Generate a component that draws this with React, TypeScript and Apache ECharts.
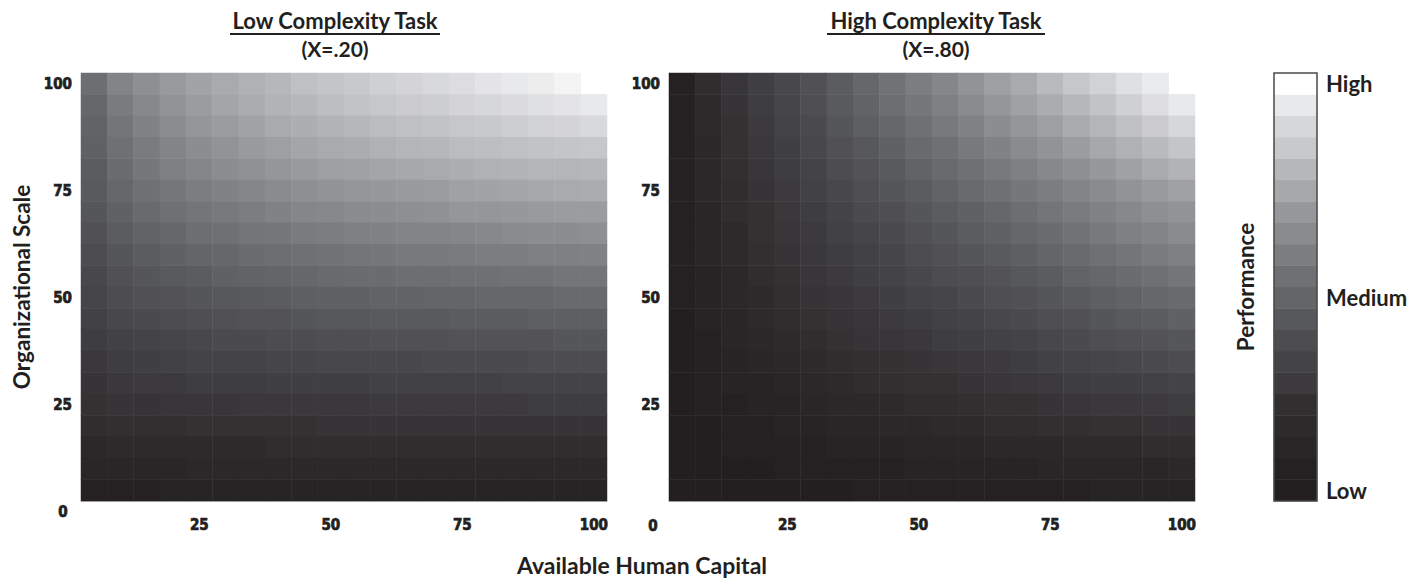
import React, { useEffect, useRef } from 'react';
import * as echarts from 'echarts';

const X_CATS = ['5', '10', '15', '20', '25', '30', '35', '40', '45', '50', '55', '60', '65', '70', '75', '80', '85', '90', '95', '100'];
const Y_CATS = ['5', '10', '15', '20', '25', '30', '35', '40', '45', '50', '55', '60', '65', '70', '75', '80', '85', '90', '95', '100'];
const TICK_LABELS = ['25', '50', '75', '100'];

// Performance (0 = low, 100 = high); rows listed from top (scale 100) to bottom (scale 5)
const LOW_ROWS: (number | null)[][] = [
  [35, 45, 50, 55, 59, 62, 65, 68, 72, 74, 76, 79, 81, 83, 85, 88, 90, 92, 95, null],
  [32, 41, 47, 52, 56, 60, 63, 66, 68, 71, 73, 75, 77, 78, 81, 82, 84, 86, 88, 90],
  [30, 38, 44, 49, 53, 56, 59, 62, 64, 66, 68, 70, 72, 73, 75, 76, 78, 80, 81, 83],
  [29, 36, 41, 45, 49, 52, 55, 57, 60, 62, 63, 65, 67, 68, 70, 71, 72, 73, 74, 75],
  [27, 34, 39, 43, 46, 49, 51, 53, 55, 57, 58, 60, 61, 62, 64, 65, 66, 67, 67, 68],
  [26, 32, 36, 39, 42, 44, 46, 48, 50, 52, 53, 54, 55, 56, 58, 59, 60, 61, 62, 63],
  [24, 29, 33, 36, 38, 40, 42, 44, 46, 47, 48, 49, 50, 51, 53, 53, 54, 55, 56, 56],
  [22, 27, 30, 32, 35, 36, 38, 39, 41, 42, 43, 44, 45, 45, 46, 47, 48, 49, 49, 50],
  [20, 24, 27, 29, 31, 32, 34, 35, 36, 37, 38, 39, 40, 40, 41, 42, 42, 43, 43, 44],
  [18, 22, 24, 26, 27, 29, 30, 31, 32, 33, 34, 34, 35, 35, 36, 36, 37, 37, 38, 38],
  [17, 20, 22, 23, 24, 25, 26, 27, 28, 29, 29, 30, 30, 31, 31, 32, 32, 32, 33, 33],
  [15, 18, 19, 20, 21, 22, 23, 23, 24, 25, 25, 26, 26, 26, 27, 27, 27, 28, 28, 28],
  [13, 15, 16, 17, 18, 19, 19, 20, 20, 21, 21, 22, 22, 22, 23, 23, 23, 23, 24, 24],
  [11, 13, 14, 15, 16, 16, 16, 17, 17, 18, 18, 18, 18, 19, 19, 19, 19, 20, 20, 20],
  [9, 11, 12, 12, 13, 13, 13, 14, 14, 14, 14, 15, 15, 15, 15, 15, 16, 16, 16, 16],
  [8, 9, 9, 10, 10, 10, 11, 11, 11, 11, 11, 12, 12, 12, 12, 12, 12, 13, 13, 13],
  [6, 7, 7, 7, 8, 8, 8, 8, 8, 9, 9, 9, 9, 9, 9, 9, 9, 9, 9, 9],
  [4, 5, 5, 5, 5, 5, 5, 6, 6, 6, 6, 6, 6, 6, 6, 6, 6, 6, 6, 6],
  [3, 3, 3, 3, 4, 4, 4, 4, 4, 4, 4, 4, 4, 4, 4, 4, 4, 4, 4, 4],
  [1, 1, 1, 2, 2, 2, 2, 2, 2, 2, 2, 2, 2, 2, 2, 2, 2, 2, 2, 2],
];

const HIGH_ROWS: (number | null)[][] = [
  [1, 6, 10, 14, 18, 22, 27, 32, 37, 42, 46, 52, 57, 62, 69, 75, 80, 86, 91, null],
  [1, 5, 9, 13, 17, 21, 26, 30, 35, 39, 43, 48, 53, 58, 63, 68, 73, 79, 85, 90],
  [1, 5, 8, 12, 16, 19, 24, 28, 32, 36, 40, 44, 49, 53, 57, 62, 67, 72, 77, 82],
  [1, 4, 8, 11, 14, 18, 22, 25, 29, 33, 36, 40, 44, 48, 52, 56, 61, 65, 69, 74],
  [1, 4, 7, 10, 13, 16, 20, 23, 26, 30, 33, 36, 40, 43, 47, 50, 54, 58, 62, 66],
  [1, 4, 6, 9, 12, 15, 18, 21, 24, 27, 30, 33, 36, 39, 42, 45, 48, 52, 55, 58],
  [1, 3, 6, 8, 11, 13, 16, 19, 21, 24, 27, 29, 32, 35, 38, 41, 44, 47, 50, 52],
  [1, 3, 5, 8, 10, 12, 15, 17, 19, 22, 24, 27, 29, 32, 34, 37, 40, 43, 45, 48],
  [1, 3, 5, 7, 9, 11, 13, 15, 17, 20, 22, 24, 26, 28, 31, 33, 36, 38, 41, 43],
  [1, 2, 4, 6, 8, 10, 12, 14, 16, 18, 20, 21, 23, 25, 27, 30, 32, 34, 36, 38],
  [1, 2, 4, 5, 7, 9, 10, 12, 14, 16, 17, 19, 21, 22, 24, 26, 28, 30, 32, 33],
  [0, 2, 3, 5, 6, 8, 9, 10, 12, 13, 15, 16, 18, 19, 21, 22, 24, 26, 27, 29],
  [0, 1, 3, 4, 5, 6, 8, 9, 10, 11, 13, 14, 15, 16, 18, 19, 21, 22, 23, 24],
  [0, 1, 2, 3, 4, 5, 6, 7, 8, 9, 10, 11, 12, 13, 15, 16, 17, 18, 19, 20],
  [0, 1, 2, 2, 3, 4, 5, 6, 7, 8, 8, 9, 10, 11, 12, 13, 14, 14, 15, 16],
  [0, 1, 1, 2, 2, 3, 4, 4, 5, 6, 6, 7, 8, 8, 9, 10, 11, 11, 12, 13],
  [0, 0, 1, 1, 2, 2, 3, 3, 4, 4, 5, 5, 6, 6, 7, 7, 8, 8, 9, 9],
  [0, 0, 1, 1, 1, 1, 2, 2, 2, 3, 3, 3, 4, 4, 4, 5, 5, 5, 6, 6],
  [0, 0, 0, 0, 1, 1, 1, 1, 1, 2, 2, 2, 2, 2, 3, 3, 3, 3, 3, 4],
  [0, 0, 0, 0, 0, 0, 0, 1, 1, 1, 1, 1, 1, 1, 1, 1, 2, 2, 2, 2],
];

// Legend steps, bottom (low) to top (high)
const LEGEND_CATS = ['1', '2', '3', '4', '5', '6', '7', '8', '9', '10', '11', '12', '13', '14', '15', '16', '17', '18', '19', '20'];
const LEGEND_VALUES = [0, 1, 3, 5, 7, 12, 16, 20, 25, 31, 36, 42, 48, 54, 61, 68, 76, 82, 90, 100];
const LEGEND_TEXT: Record<string, string> = { '1': 'Low', '10': 'Medium', '20': 'High' };

const TEXT_COLOR = '#231f20';
const TITLE_FONT = 'Lato';
const TICK_FONT = 'DejaVu Sans Condensed';

function toCells(rows: (number | null)[][]) {
  const out: number[][] = [];
  rows.forEach((row, r) => {
    row.forEach((v, c) => {
      if (v !== null) out.push([c, rows.length - 1 - r, v]);
    });
  });
  return out;
}

const tickLabel = {
  interval: 0,
  fontFamily: TICK_FONT,
  fontWeight: 'bold' as const,
  fontSize: 15,
  color: TEXT_COLOR,
  textBorderColor: TEXT_COLOR,
  textBorderWidth: 0.7,
  formatter: (v: string) => (TICK_LABELS.includes(v) ? v : ''),
};

function heatAxes(gridIndex: number, yName: string) {
  return {
    x: {
      type: 'category',
      gridIndex,
      data: X_CATS,
      axisTick: { show: false },
      axisLine: { show: true, lineStyle: { color: '#c4c4c4', width: 1 } },
      axisLabel: { ...tickLabel, margin: 16 },
      splitLine: { show: false },
    },
    y: {
      type: 'category',
      gridIndex,
      data: Y_CATS,
      axisTick: { show: false },
      axisLine: { show: true, lineStyle: { color: '#c4c4c4', width: 1 } },
      axisLabel: { ...tickLabel, margin: 9 },
      splitLine: { show: false },
      name: yName,
      nameLocation: 'middle',
      nameRotate: 90,
      nameGap: 48,
      nameTextStyle: { fontFamily: TITLE_FONT, fontWeight: 'bold', fontSize: 22.5, color: TEXT_COLOR },
    },
  };
}

export default function App() {
  const ref = useRef<HTMLDivElement>(null);
  useEffect(() => {
    document.body.style.margin = '0';
    const chart = echarts.init(ref.current!, null, { renderer: 'svg' });
    const a0 = heatAxes(0, 'Organizational Scale');
    const a1 = heatAxes(1, '');
    const titleStyle = (text: string, x: number, y: number, size: number) => ({
      type: 'text',
      x,
      y,
      style: {
        text,
        fill: TEXT_COLOR,
        font: `bold ${size}px ${TITLE_FONT}`,
        align: 'center',
        verticalAlign: 'middle',
      },
    });
    const tickText = (text: string, x: number, y: number) => ({
      type: 'text',
      x,
      y,
      style: {
        text,
        fill: TEXT_COLOR,
        font: `bold 15px "${TICK_FONT}"`,
        stroke: TEXT_COLOR,
        lineWidth: 0.7,
        align: 'center',
        verticalAlign: 'middle',
      },
    });
    const option: any = {
      animation: false,
      backgroundColor: '#ffffff',
      grid: [
        { left: 81, top: 73, width: 526, height: 428 },
        { left: 669, top: 73, width: 526, height: 428 },
        {
          left: 1274, top: 73, width: 43, height: 428,
          show: true, borderColor: '#4a4a4a', borderWidth: 1.5, backgroundColor: 'transparent', z: 10,
        },
      ],
      xAxis: [
        a0.x,
        a1.x,
        { type: 'category', gridIndex: 2, data: ['P'], axisLine: { show: false }, axisTick: { show: false }, axisLabel: { show: false } },
      ],
      yAxis: [
        a0.y,
        a1.y,
        {
          type: 'category',
          gridIndex: 2,
          data: LEGEND_CATS,
          position: 'right',
          axisLine: { show: false },
          axisTick: { show: false },
          axisLabel: {
            interval: 0,
            margin: 9,
            fontFamily: TITLE_FONT,
            fontWeight: 'bold',
            fontSize: 22,
            color: TEXT_COLOR,
            formatter: (v: string) => LEGEND_TEXT[v] || '',
          },
        },
        {
          type: 'category',
          gridIndex: 2,
          data: LEGEND_CATS,
          position: 'left',
          axisLine: { show: false },
          axisTick: { show: false },
          axisLabel: { show: false },
          name: 'Performance',
          nameLocation: 'middle',
          nameRotate: 90,
          nameGap: 17,
          nameTextStyle: { fontFamily: TITLE_FONT, fontWeight: 'bold', fontSize: 22.5, color: TEXT_COLOR },
        },
      ],
      visualMap: {
        show: false,
        type: 'continuous',
        min: 0,
        max: 100,
        seriesIndex: [0, 1, 2],
        inRange: { color: ['#231f20', '#57585c', '#8e8f93', '#c6c7ca', '#ffffff'] },
      },
      series: [
        { type: 'heatmap', xAxisIndex: 0, yAxisIndex: 0, data: toCells(LOW_ROWS) },
        { type: 'heatmap', xAxisIndex: 1, yAxisIndex: 1, data: toCells(HIGH_ROWS) },
        {
          type: 'heatmap',
          xAxisIndex: 2,
          yAxisIndex: 2,
          data: LEGEND_VALUES.map((v, i) => [0, i, v]),
        },
      ],
      graphic: [
        titleStyle('Low Complexity Task', 335, 20, 22),
        { type: 'line', shape: { x1: 230, y1: 34, x2: 440, y2: 34 }, style: { stroke: TEXT_COLOR, lineWidth: 2 } },
        titleStyle('(X=.20)', 335, 48, 21),
        titleStyle('High Complexity Task', 936, 20, 22),
        { type: 'line', shape: { x1: 827, y1: 34, x2: 1045, y2: 34 }, style: { stroke: TEXT_COLOR, lineWidth: 2 } },
        titleStyle('(X=.80)', 936, 48, 21),
        titleStyle('Available Human Capital', 642, 565, 23),
        tickText('0', 63, 512),
        tickText('0', 653, 526),
      ],
    };
    chart.setOption(option);
    return () => chart.dispose();
  }, []);
  return <div ref={ref} style={{ width: 1427, height: 580 }} />;
}
